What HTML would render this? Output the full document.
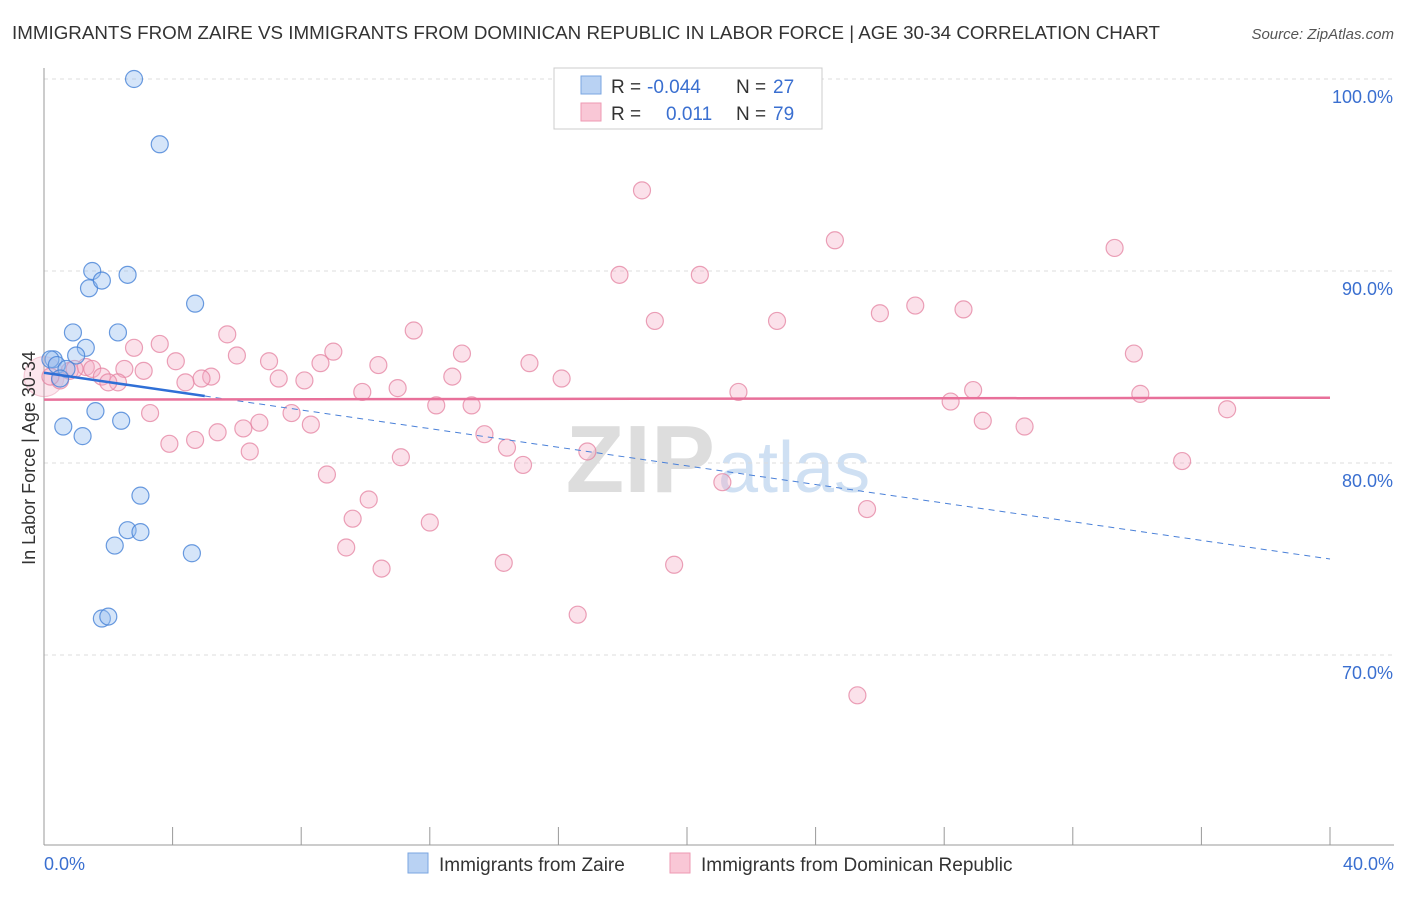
<!DOCTYPE html>
<html><head><meta charset="utf-8"><style>
body{margin:0;background:#fff;font-family:"Liberation Sans",sans-serif;}
svg text{font-family:"Liberation Sans",sans-serif;}
</style></head><body>
<svg id="chart" width="1406" height="892">
<text x="12" y="39" font-size="18" fill="#333" textLength="1148" lengthAdjust="spacingAndGlyphs">IMMIGRANTS FROM ZAIRE VS IMMIGRANTS FROM DOMINICAN REPUBLIC IN LABOR FORCE | AGE 30-34 CORRELATION CHART</text>
<text x="1394" y="39" font-size="15" fill="#555" font-style="italic" text-anchor="end">Source: ZipAtlas.com</text>
<text x="715" y="492" font-size="96" fill="#ddd" font-weight="bold" text-anchor="end" font-family="Liberation Serif">ZIP</text>
<text x="718" y="492" font-size="72" fill="#cfe0f3">atlas</text>
<g id="grid"></g><g id="axes"></g><g id="pts"></g><g id="lines"></g>
<text transform="translate(35,458) rotate(-90)" font-size="18" fill="#333" text-anchor="middle">In Labor Force | Age 30-34</text>
<text x="44" y="870" font-size="18" fill="#3a6fd0">0.0%</text>
<text x="1394" y="870" font-size="18" fill="#3a6fd0" text-anchor="end">40.0%</text>
<g>
<rect x="554" y="68" width="268" height="61" fill="#fff" stroke="#ccc"/>
<rect x="581" y="76" width="20" height="18" fill="#b9d2f3" stroke="#7aa6e0"/>
<rect x="581" y="103" width="20" height="18" fill="#f9c7d6" stroke="#ee9ab3"/>
<text y="93" font-size="19" fill="#333"><tspan x="611">R = </tspan><tspan x="647" fill="#3a6fd0">-0.044</tspan><tspan x="736">N = </tspan><tspan x="773" fill="#3a6fd0">27</tspan></text>
<text y="120" font-size="19" fill="#333"><tspan x="611">R = </tspan><tspan x="666" fill="#3a6fd0">0.011</tspan><tspan x="736">N = </tspan><tspan x="773" fill="#3a6fd0">79</tspan></text>
</g>
<g>
<rect x="408" y="853" width="20" height="20" fill="#b9d2f3" stroke="#7aa6e0"/>
<text x="439" y="871" font-size="19" fill="#333">Immigrants from Zaire</text>
<rect x="670" y="853" width="20" height="20" fill="#f9c7d6" stroke="#ee9ab3"/>
<text x="701" y="871" font-size="19" fill="#333">Immigrants from Dominican Republic</text>
</g>
</svg>
<script>
const yTicks=[100,90,80,70];
const xTickVals=[0,4,8,12,16,20,24,28,32,36,40];
const zaireX=[2.8,3.6,1.5,2.6,1.4,1.8,4.7,0.9,2.3,1.3,1.0,0.3,0.2,0.4,0.7,0.5,1.6,0.6,2.4,1.2,3.0,2.6,3.0,2.2,4.6,1.8,2.0];
const zaireY=[100,96.6,90.0,89.8,89.1,89.5,88.3,86.8,86.8,86.0,85.6,85.4,85.4,85.1,84.9,84.4,82.7,81.9,82.2,81.4,78.3,76.5,76.4,75.7,75.3,71.9,72.0];
const domX=[18.6,24.6,33.3,17.9,20.4,27.1,26.0,28.6,19.0,22.8,11.5,5.7,3.6,2.8,9.0,6.0,13.0,33.9,4.1,7.0,8.6,10.4,15.1,1.3,2.5,1.5,3.1,0.8,1.8,5.2,4.9,12.7,7.3,8.1,2.3,2.0,4.4,16.1,11.0,9.9,21.6,28.9,34.1,12.2,13.3,28.2,36.8,3.3,7.7,6.7,8.3,6.2,5.4,13.7,4.7,3.9,29.2,30.5,14.4,6.4,11.1,16.9,14.9,8.8,35.4,21.1,10.1,9.6,25.6,12.0,9.4,10.5,14.3,19.6,16.6,25.3,0.5,0.2,0.95];
const domY=[94.2,91.6,91.2,89.8,89.8,88.2,87.8,88.0,87.4,87.4,86.9,86.7,86.2,86.0,85.8,85.6,85.7,85.7,85.3,85.3,85.2,85.1,85.2,85.0,84.9,84.9,84.8,84.8,84.5,84.5,84.4,84.5,84.4,84.3,84.2,84.2,84.2,84.4,83.9,83.7,83.7,83.8,83.6,83.0,83.0,83.2,82.8,82.6,82.6,82.1,82.0,81.8,81.6,81.5,81.2,81.0,82.2,81.9,80.8,80.6,80.3,80.6,79.9,79.4,80.1,79.0,78.1,77.1,77.6,76.9,75.6,74.5,74.8,74.7,72.1,67.9,84.3,84.5,84.9];
const NS='http://www.w3.org/2000/svg';
const X=v=>44+v/40*1286, Y=v=>79+(100-v)*19.2;
function mk(t,a,p){const e=document.createElementNS(NS,t);for(const k in a)e.setAttribute(k,a[k]);document.getElementById(p).appendChild(e);return e;}
yTicks.forEach(t=>{
 const g=mk('line',{x1:44,x2:1394,y1:Y(t),y2:Y(t),stroke:'#ddd','stroke-dasharray':'4,4'},'grid');
 
 
 const l=mk('text',{x:1393,y:Y(t)+24,'font-size':18,fill:'#3a6fd0','text-anchor':'end'},'grid');
 l.textContent=t.toFixed(1)+'%';
 
 
});
const ax=mk('line',{x1:44,x2:44,y1:68,y2:845,stroke:'#999'},'axes');


const bx=mk('line',{x1:44,x2:1394,y1:845,y2:845,stroke:'#999'},'axes');


xTickVals.forEach(t=>{
 const k=mk('line',{x1:X(t),x2:X(t),y1:827,y2:845,stroke:'#999'},'axes');
 
 
});
const big=mk('circle',{cx:X(0),cy:Y(84.5),r:20,fill:'rgba(244,160,186,0.25)',stroke:'rgba(230,130,160,0.4)'},'pts');


domX.forEach((v,i)=>{
 const c=mk('circle',{cx:X(v),cy:Y(domY[i]),r:8.5,fill:'rgba(244,170,194,0.35)',stroke:'rgba(228,130,160,0.75)','stroke-width':1.2},'pts');
 
 
});
zaireX.forEach((v,i)=>{
 const c=mk('circle',{cx:X(v),cy:Y(zaireY[i]),r:8.5,fill:'rgba(150,190,240,0.4)',stroke:'rgba(70,130,215,0.8)','stroke-width':1.2},'pts');
 
 
});
const bA=84.7,bB=(75.0-84.7)/40;
const s=mk('line',{x1:X(0),y1:Y(bA),x2:X(5),y2:Y(bA+bB*5),stroke:'#2f6fd6','stroke-width':2.5},'lines');


const d=mk('line',{x1:X(5),y1:Y(bA+bB*5),x2:X(40),y2:Y(bA+bB*40),stroke:'#4a80d8','stroke-width':1,'stroke-dasharray':'6,5'},'lines');


const p=mk('line',{x1:X(0),y1:Y(83.3),x2:X(40),y2:Y(83.4),stroke:'#e8709a','stroke-width':2.5},'lines');


</script>
</body></html>
